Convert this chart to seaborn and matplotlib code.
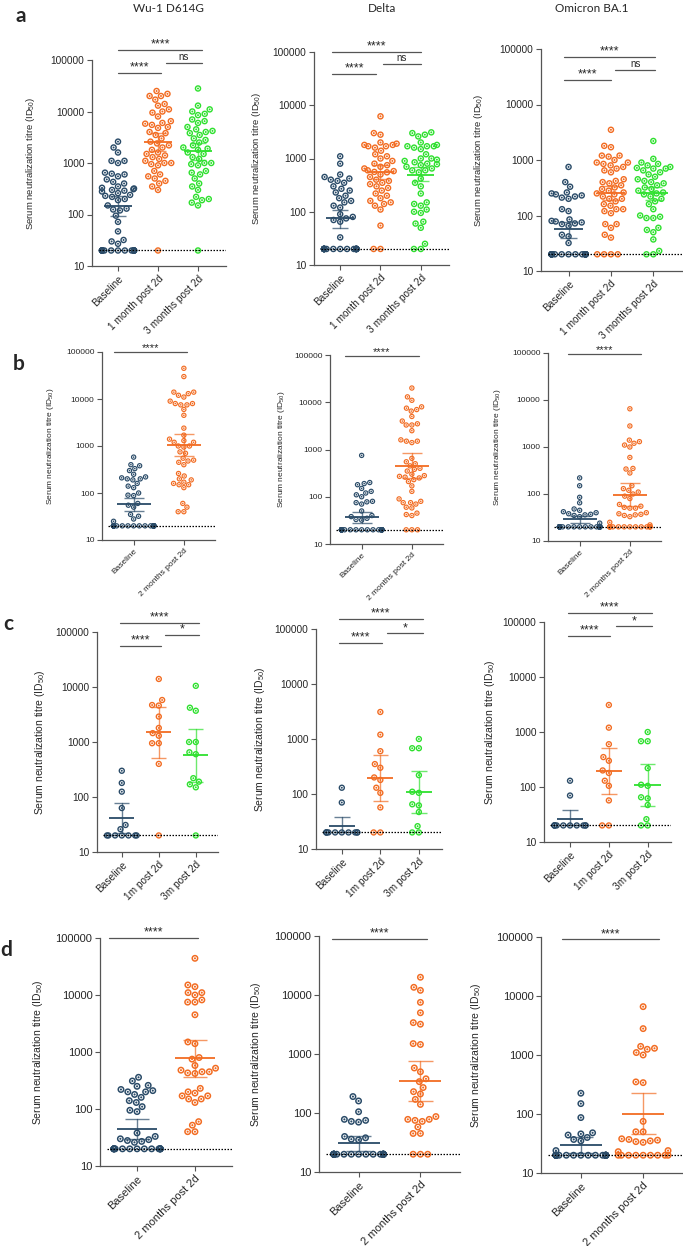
import numpy as np
import pandas as pd
import seaborn as sns
import matplotlib.pyplot as plt
import matplotlib.ticker as mticker
from matplotlib.path import Path

sns.set_style("white")
plt.rcParams['font.family'] = ['Liberation Sans', 'DejaVu Sans']
plt.rcParams['mathtext.fontset'] = 'custom'
plt.rcParams['mathtext.rm'] = 'Liberation Sans'
plt.rcParams['mathtext.it'] = 'Liberation Sans:italic'

# ---------------- data ----------------
row_a_groups = ["Baseline", "1 month post 2d", "3 months post 2d"]
row_b_groups = ["Baseline", "2 months post 2d"]
row_c_groups = ["Baseline", "1m post 2d", "3m post 2d"]
row_d_groups = ["Baseline", "2 months post 2d"]
variants = ["Wu-1 D614G", "Delta", "Omicron BA.1"]
y_ticks = [10, 100, 1000, 10000, 100000]
y_ticklabels = ["10", "100", "1000", "10000", "100000"]

# a: Wu-1 D614G
a1_base = [2600, 2000, 1600, 1100, 1100, 1000, 650, 620, 600, 550, 480, 430, 400, 350, 330, 320, 310, 300,
           290, 280, 260, 240, 230, 220, 200, 190, 150, 130, 125, 120, 95, 72, 47, 32, 30, 27,
           20, 20, 20, 20, 20, 20, 20, 20, 20, 20, 20, 20, 20, 20, 20]
a1_1m = [25000, 22000, 20000, 20000, 17000, 14000, 13000, 11000, 10000, 9500, 8000, 6500, 6000, 5800, 5500,
         5000, 4800, 4000, 3800, 3500, 3000, 2600, 2400, 2200, 2000, 1800, 1600, 1500, 1400, 1300, 1200,
         1100, 1000, 1000, 950, 900, 700, 600, 550, 500, 450, 400, 350, 300, 20]
a1_3m = [28000, 13000, 11000, 10000, 9000, 8500, 7000, 6500, 6000, 5000, 4500, 4200, 4000, 3800, 3500, 3000,
         2800, 2500, 2200, 2000, 1900, 1800, 1600, 1500, 1300, 1200, 1000, 1000, 950, 900, 700, 650, 600,
         500, 400, 350, 300, 220, 200, 190, 170, 150, 20]
a1_mid = [146, 2600, 1700]
a1_lo = [93, 1700, 1150]
a1_hi = [230, 3800, 2500]

# a: Delta
a2_base = [1100, 800, 500, 450, 420, 400, 380, 350, 300, 270, 250, 230, 200, 180, 160, 150, 130, 120, 90, 80,
           75, 70, 65, 33, 20, 20, 20, 20, 20, 20, 20, 20, 20, 20, 20, 20, 20, 20, 20, 20, 20, 20, 20, 20,
           20, 20]
a2_1m = [6200, 3000, 2800, 2000, 1900, 1800, 1800, 1700, 1700, 1600, 1400, 1200, 1100, 1000, 900, 800, 750,
         700, 650, 600, 580, 560, 550, 500, 450, 400, 380, 350, 330, 300, 280, 250, 220, 200, 180, 160, 150,
         140, 130, 110, 55, 20, 20]
a2_3m = [3100, 3000, 2800, 2600, 2000, 1800, 1700, 1700, 1700, 1600, 1500, 1200, 1000, 1000, 950, 900, 850,
         800, 780, 750, 700, 650, 600, 600, 550, 420, 350, 300, 220, 150, 140, 130, 110, 100, 95, 65, 60,
         50, 25, 20, 20]
a2_mid = [75, 550, 500]
a2_lo = [50, 420, 380]
a2_hi = [110, 750, 680]

# a: Omicron BA.1
a3_base = [750, 400, 330, 260, 250, 240, 230, 220, 210, 200, 130, 120, 85, 80, 78, 75, 72, 70, 65, 45, 42, 32,
           20, 20, 20, 20, 20, 20, 20, 20, 20, 20, 20, 20, 20, 20, 20, 20, 20, 20, 20, 20]
a3_1m = [3500, 1800, 1700, 1200, 1200, 1150, 1000, 900, 900, 850, 800, 750, 700, 650, 600, 450, 420, 400,
         380, 350, 320, 300, 280, 260, 250, 240, 220, 200, 200, 180, 160, 150, 130, 130, 120, 110, 70, 70,
         60, 45, 40, 20, 20, 20, 20]
a3_3m = [2200, 1050, 900, 850, 800, 750, 720, 700, 700, 650, 600, 550, 500, 450, 420, 400, 380, 350, 320,
         300, 280, 260, 250, 240, 220, 200, 180, 160, 130, 100, 95, 90, 90, 60, 55, 50, 37, 23, 20, 20]
a3_mid = [56, 255, 255]
a3_lo = [40, 190, 190]
a3_hi = [75, 340, 330]

# b
b1_base = [580, 400, 380, 330, 300, 250, 220, 210, 200, 200, 190, 160, 140, 130, 100, 90, 88, 60, 55, 50, 35,
           32, 28, 25, 20, 20, 20, 20, 20, 20, 20, 20, 20, 20, 20, 20, 20, 20, 20, 20, 20, 20, 20, 20, 20,
           20, 20, 20, 20]
b1_2m = [45000, 30000, 14000, 14000, 13000, 12000, 11000, 9000, 8000, 8000, 7500, 7500, 6000, 4500, 2400,
         1700, 1400, 1300, 1200, 1200, 1000, 1000, 950, 750, 700, 550, 500, 480, 450, 400, 260, 230, 200,
         190, 170, 160, 150, 150, 130, 60, 50, 40, 40]
b1_mid = [58, 1060]
b1_lo = [41, 600]
b1_hi = [80, 1800]

b2_base = [750, 200, 190, 180, 150, 130, 120, 110, 100, 80, 78, 75, 70, 50, 40, 38, 35, 33, 32,
           20, 20, 20, 20, 20, 20, 20, 20, 20, 20, 20, 20, 20, 20, 20, 20, 20, 20, 20, 20, 20, 20, 20, 20,
           20, 20, 20, 20]
b2_2m = [20000, 13000, 11000, 8000, 7500, 7000, 6500, 5000, 4000, 3500, 3300, 3300, 2500, 1600, 1500, 1500,
         1400, 650, 550, 500, 450, 400, 380, 350, 300, 280, 270, 260, 250, 230, 210, 170, 130, 90, 80, 75,
         75, 70, 60, 58, 45, 42, 40, 20, 20, 20]
b2_mid = [37, 455]
b2_lo = [28, 250]
b2_hi = [48, 850]

b3_base = [220, 150, 85, 65, 48, 45, 42, 40, 38, 37, 36, 35, 33, 24,
           20, 20, 20, 20, 20, 20, 20, 20, 20, 20, 20, 20, 20, 20, 20, 20, 20, 20, 20, 20, 20, 20, 20, 20,
           20, 20, 20, 20, 20, 20]
b3_2m = [6500, 2800, 1400, 1300, 1200, 1100, 1000, 600, 350, 340, 280, 150, 130, 120, 110, 100, 90, 80, 60,
         55, 52, 50, 50, 40, 38, 37, 36, 35, 33, 25, 22, 20, 20, 20, 20, 20, 20, 20, 20, 20, 20, 20, 20, 20,
         20]
b3_mid = [29, 95]
b3_lo = [24, 55]
b3_hi = [34, 170]

# c
c1_base = [300, 180, 125, 63, 31, 26, 20, 20, 20, 20, 20, 20, 20]
c1_1m = [14000, 5800, 4700, 4600, 2900, 1800, 1450, 1300, 950, 950, 400, 20]
c1_3m = [10500, 4200, 3700, 1000, 1000, 650, 600, 220, 190, 170, 150, 20]
c1_mid = [41, 1500, 580]
c1_lo = [22, 510, 190]
c1_hi = [77, 4300, 1700]

c2_base = [130, 70, 20, 20, 20, 20, 20, 20, 20, 20, 20, 20]
c2_1m = [3100, 1200, 600, 350, 300, 200, 180, 130, 105, 57, 20, 20]
c2_3m = [1000, 680, 680, 220, 110, 105, 65, 62, 47, 26, 20, 20]
c2_mid = [26, 195, 107]
c2_lo = [20, 75, 45]
c2_hi = [38, 510, 260]

c3_base = [130, 70, 20, 20, 20, 20, 20, 20, 20, 20, 20, 20]
c3_1m = [3100, 1200, 600, 350, 300, 200, 180, 130, 105, 57, 20, 20]
c3_3m = [1000, 680, 680, 220, 110, 105, 65, 62, 47, 26, 20, 20]
c3_mid = [26, 195, 107]
c3_lo = [20, 75, 45]
c3_hi = [38, 510, 260]

# d
d1_base = [360, 310, 260, 250, 220, 210, 200, 200, 180, 160, 140, 130, 110, 95, 90, 38, 33, 30, 29, 28, 27, 26,
           20, 20, 20, 20, 20, 20, 20, 20, 20, 20, 20, 20, 20, 20, 20, 20, 20]
d1_2m = [44000, 15000, 14000, 11000, 11000, 10000, 8200, 7500, 7500, 4500, 1500, 1400, 800, 750, 580, 520,
         480, 450, 450, 430, 420, 230, 200, 190, 170, 170, 150, 150, 130, 60, 52, 40, 40]
d1_mid = [45, 800]
d1_lo = [30, 370]
d1_hi = [66, 1650]

d2_base = [190, 160, 105, 78, 75, 72, 70, 40, 38, 36, 35,
           20, 20, 20, 20, 20, 20, 20, 20, 20, 20, 20, 20, 20, 20, 20, 20, 20, 20, 20, 20, 20, 20, 20, 20, 20]
d2_2m = [20000, 13500, 12000, 7500, 5000, 3400, 3200, 1500, 1450, 580, 500, 380, 340, 270, 230, 210, 170,
         140, 87, 78, 78, 75, 72, 58, 45, 45, 20, 20, 20]
d2_mid = [31, 350]
d2_lo = [23, 160]
d2_hi = [40, 750]

d3_base = [225, 150, 87, 48, 46, 44, 40, 37, 35, 24,
           20, 20, 20, 20, 20, 20, 20, 20, 20, 20, 20, 20, 20, 20, 20, 20, 20, 20, 20, 20, 20, 20]
d3_2m = [6600, 2800, 1400, 1300, 1250, 1100, 1000, 350, 340, 75, 50, 50, 38, 37, 36, 35, 34, 33, 24, 23,
         20, 20, 20, 20, 20, 20, 20, 20, 20]
d3_mid = [30, 100]
d3_lo = [22, 45]
d3_hi = [40, 225]

# ---------------- style ----------------
colors = ["#2A4B68", "#F26C22", "#2FE02F"]
W, H = 683, 1246

# ring marker with a dot in the middle
t = np.linspace(0, 2 * np.pi, 40)
circ = np.c_[np.cos(t), np.sin(t)]
ring_verts = np.concatenate([circ, 0.56 * circ[::-1], 0.3 * circ])
ring_codes = ([Path.MOVETO] + [Path.LINETO] * 38 + [Path.CLOSEPOLY]) * 3
ring = Path(ring_verts, ring_codes)

fig = plt.figure(figsize=(W / 100, H / 100), dpi=100)


def px_axes(l, t, r, b):
    return fig.add_axes([l / W, 1 - b / H, (r - l) / W, (b - t) / H])


def draw_panel(ax, groups, series, mid, lo, hi, bars, st, label_off):
    n = len(groups)
    cols = colors[:n]
    frame = pd.DataFrame({
        "group": np.repeat(groups, [len(s) for s in series]),
        "titre": np.concatenate(series).astype(float),
    })
    sns.swarmplot(data=frame, x="group", y="titre", hue="group", order=groups, hue_order=groups,
                  palette=dict(zip(groups, cols)), marker=ring, size=st["size"], linewidth=0,
                  legend=False, log_scale=True, warn_thresh=1, ax=ax, zorder=2)
    for i in range(n):
        ax.plot([i, i], [lo[i], hi[i]], color=cols[i], lw=1.0, alpha=0.7, zorder=3)
        ax.hlines([lo[i], hi[i]], i - 0.2, i + 0.2, color=cols[i], lw=1.0, alpha=0.7, zorder=3)
        ax.hlines(mid[i], i - 0.34, i + 0.34, color=cols[i], lw=1.3, zorder=4)
    ax.axhline(20, xmin=0.05, xmax=1, color="black", lw=0.9, ls=(0, (1.2, 1.2)), zorder=5)

    ax.set_ylim(10, 100000)
    ax.set_xlim(*st["xlim"])
    ax.set_yticks(y_ticks)
    ax.set_yticklabels(y_ticklabels, fontsize=st["tick"])
    ax.yaxis.set_minor_locator(mticker.NullLocator())
    ax.set_xticks(range(n))
    ax.set_xticklabels(groups, rotation=45, ha="right", rotation_mode="anchor", fontsize=st["tick"])
    ax.set_xlabel("")
    ax.set_ylabel("Serum neutralization titre (ID$_{50}$)", fontsize=st["label"])
    ax.yaxis.set_label_coords(-label_off / (ax.get_position().width * W), 0.5)
    sns.despine(ax=ax)
    for s in ["left", "bottom"]:
        ax.spines[s].set_color("#555555")
        ax.spines[s].set_linewidth(0.9)
    ax.tick_params(left=True, bottom=True, length=3.5, width=0.8, color="#555555", pad=2)

    trans = ax.get_xaxis_transform()
    for x0, x1, yf, txt in bars:
        ax.plot([x0, x1], [yf, yf], transform=trans, clip_on=False, color="#555555", lw=0.9)
        fs = st["star"] if "*" in txt else st["ns"]
        ax.annotate(txt, ((x0 + x1) / 2, yf), xycoords=trans, xytext=(0, -0.5 if "*" in txt else 1),
                    textcoords="offset points", ha="center", va="bottom", fontsize=fs,
                    annotation_clip=False)


st_a = dict(size=4.7, tick=7.3, label=6.8, star=9, ns=7, xlim=(-0.65, 2.7))
st_b = dict(size=3.9, tick=6, label=6, star=8, ns=6, xlim=(-0.63, 1.62))
st_c = dict(size=4.6, tick=7.3, label=7.5, star=9, ns=7, xlim=(-0.67, 2.6))
st_d = dict(size=5.0, tick=8, label=7.5, star=9, ns=7, xlim=(-0.64, 1.64))

ax = px_axes(92, 60, 226, 266)
draw_panel(ax, row_a_groups, [a1_base, a1_1m, a1_3m], a1_mid, a1_lo, a1_hi,
           [(0, 2.1, 1.049, "****"), (1.2, 2.1, 0.985, "ns"), (0, 1.07, 0.937, "****")], st_a, 55)
ax = px_axes(314, 52, 449, 265)
draw_panel(ax, row_a_groups, [a2_base, a2_1m, a2_3m], a2_mid, a2_lo, a2_hi,
           [(-0.2, 2.0, 1.0, "****"), (1.07, 2.0, 0.944, "ns"), (-0.2, 0.9, 0.897, "****")], st_a, 51)
ax = px_axes(541, 49, 683, 271)
draw_panel(ax, row_a_groups, [a3_base, a3_1m, a3_3m], a3_mid, a3_lo, a3_hi,
           [(-0.1, 2.05, 0.964, "****"), (1.1, 2.05, 0.905, "ns"), (-0.1, 1.0, 0.86, "****")], st_a, 56)

ax = px_axes(102, 352, 215, 540)
draw_panel(ax, row_b_groups, [b1_base, b1_2m], b1_mid, b1_lo, b1_hi,
           [(-0.4, 1.06, 1.0, "****")], st_b, 46)
ax = px_axes(330, 355, 443, 544)
draw_panel(ax, row_b_groups, [b2_base, b2_2m], b2_mid, b2_lo, b2_hi,
           [(-0.34, 1.14, 0.995, "****")], st_b, 43)
ax = px_axes(548, 353, 661, 541)
draw_panel(ax, row_b_groups, [b3_base, b3_2m], b3_mid, b3_lo, b3_hi,
           [(-0.24, 1.22, 0.995, "****")], st_b, 45)

ax = px_axes(97, 632, 218, 852)
draw_panel(ax, row_c_groups, [c1_base, c1_1m, c1_3m], c1_mid, c1_lo, c1_hi,
           [(-0.05, 2.1, 1.04, "****"), (1.18, 2.1, 0.986, "*"), (-0.05, 1.05, 0.936, "****")], st_c, 50)
ax = px_axes(316, 629, 442, 849)
draw_panel(ax, row_c_groups, [c2_base, c2_1m, c2_3m], c2_mid, c2_lo, c2_hi,
           [(-0.08, 2.1, 1.045, "****"), (1.18, 2.1, 0.98, "*"), (-0.08, 1.03, 0.936, "****")], st_c, 49)
ax = px_axes(544, 622, 671, 842)
draw_panel(ax, row_c_groups, [c3_base, c3_1m, c3_3m], c3_mid, c3_lo, c3_hi,
           [(-0.05, 2.1, 1.04, "****"), (1.18, 2.1, 0.98, "*"), (-0.05, 1.03, 0.936, "****")], st_c, 47)

ax = px_axes(100, 938, 232, 1166)
draw_panel(ax, row_d_groups, [d1_base, d1_2m], d1_mid, d1_lo, d1_hi,
           [(-0.48, 1.05, 1.0, "****")], st_d, 55)
ax = px_axes(319, 936, 460, 1172)
draw_panel(ax, row_d_groups, [d2_base, d2_2m], d2_mid, d2_lo, d2_hi,
           [(-0.43, 1.1, 0.987, "****")], st_d, 56)
ax = px_axes(541, 937, 683, 1173)
draw_panel(ax, row_d_groups, [d3_base, d3_2m], d3_mid, d3_lo, d3_hi,
           [(-0.3, 1.25, 0.99, "****")], st_d, 58)

for x, name in zip([168, 382, 592], variants):
    fig.text(x / W, 1 - 9 / H, name, ha="center", va="center", fontsize=8.5, family=["Lato", "DejaVu Sans"])
for x, y, letter in [(21, 16, "a"), (19, 364, "b"), (8, 624, "c"), (6, 950, "d")]:
    fig.text(x / W, 1 - y / H, letter, ha="center", va="center", fontsize=15, fontweight="bold",
             family=["Lato", "DejaVu Sans"])

fig.savefig("out.png", dpi=100, facecolor="white")
